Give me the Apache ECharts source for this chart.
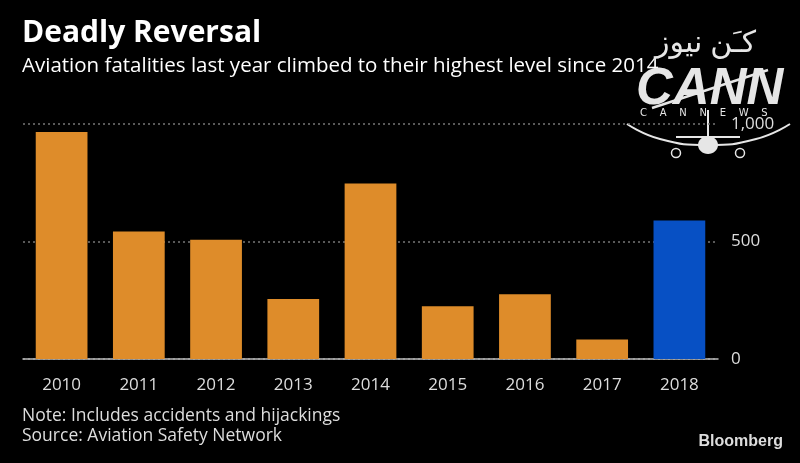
<!DOCTYPE html>
<html>
<head>
<meta charset="utf-8">
<script src="https://cdn.jsdelivr.net/npm/echarts@6/dist/echarts.min.js"></script>
<style>
  html, body { margin: 0; padding: 0; background: #000; }
  #main { width: 800px; height: 463px; }
</style>
</head>
<body>
<div id="main"></div>
<script>
var chart = echarts.init(document.getElementById("main"));

// fatalities per year
var years = ["2010", "2011", "2012", "2013", "2014", "2015", "2016", "2017", "2018"];
var fatalities = [966, 543, 507, 255, 747, 224, 276, 83, 589];
var yTicks = [0, 500, 1000];

var orange = "#DE8C2A";
var blue = "#0750C4";
var font = "Open Sans";

var barData = fatalities.map(function (v, i) {
    return {
        value: v,
        itemStyle: { color: years[i] === "2018" ? blue : orange }
    };
});

var option = {
    backgroundColor: "#000",
    textStyle: { fontFamily: font },
    animation: false,
    grid: { left: 23, right: 82, top: 124, bottom: 104 },
    xAxis: {
        type: "category",
        data: years,
        axisLine: { lineStyle: { color: "#bbb", width: 1.5 } },
        axisTick: { alignWithLabel: true, length: 5, lineStyle: { color: "#bbb" } },
        axisLabel: { color: "#ddd", fontSize: 17, margin: 18, fontFamily: font }
    },
    yAxis: {
        type: "value",
        position: "right",
        min: 0,
        max: 1000,
        interval: 500,
        axisLine: { show: false },
        axisTick: { show: false },
        splitLine: { lineStyle: { color: "#777", type: [2, 3], width: 1.5 } },
        axisLabel: {
            color: "#ddd",
            fontSize: 17,
            margin: 13,
            fontFamily: font,
            formatter: function (v) {
                return yTicks.indexOf(v) >= 0 ? v.toLocaleString("en-US") : "";
            }
        }
    },
    series: [{
        type: "bar",
        data: barData,
        barCategoryGap: "33%"
    }],
    graphic: [
        {
            type: "text", left: 22, top: 18,
            style: { text: "Deadly Reversal", fill: "#fff", font: "bold 30px " + font }
        },
        {
            type: "text", left: 22, top: 56,
            style: { text: "Aviation fatalities last year climbed to their highest level since 2014", fill: "#fff", font: "20.5px " + font }
        },
        {
            type: "text", left: 22, top: 407,
            style: { text: "Note: Includes accidents and hijackings", fill: "#ddd", font: "17.5px " + font }
        },
        {
            type: "text", left: 22, top: 427,
            style: { text: "Source: Aviation Safety Network", fill: "#ddd", font: "17.5px " + font }
        },
        {
            type: "text", right: 17, top: 434,
            style: { text: "Bloomberg", fill: "#ddd", font: "bold 16px Liberation Sans" }
        },
        // watermark logo
        {
            type: "group", z: 100,
            children: [
                {
                    type: "text", x: 655, y: 28,
                    style: { text: "كـَن نيوز", fill: "#e6e6e6", font: "30px 'Noto Sans', 'DejaVu Sans'" }
                },
                {
                    type: "text", x: 636, y: 64,
                    style: { text: "CANN", fill: "#e6e6e6", font: "italic bold 51px 'Liberation Sans Narrow', 'Liberation Sans'" }
                },
                {
                    type: "line",
                    shape: { x1: 652, y1: 108, x2: 768, y2: 70 },
                    style: { stroke: "#e6e6e6", lineWidth: 2.5 }
                },
                {
                    type: "text", x: 640, y: 108,
                    style: { text: "C    A    N    N    E    W    S", fill: "#e6e6e6", font: "10px 'DejaVu Sans'" }
                },
                {
                    type: "polyline",
                    shape: { points: [[627, 124], [660, 139], [708, 145], [756, 139], [790, 124]], smooth: 0.5 },
                    style: { stroke: "#e6e6e6", lineWidth: 2, fill: null }
                },
                {
                    type: "line",
                    shape: { x1: 676, y1: 137, x2: 740, y2: 137 },
                    style: { stroke: "#e6e6e6", lineWidth: 2 }
                },
                {
                    type: "line",
                    shape: { x1: 708, y1: 110, x2: 708, y2: 150 },
                    style: { stroke: "#e6e6e6", lineWidth: 2 }
                },
                {
                    type: "ellipse",
                    shape: { cx: 708, cy: 145, rx: 10, ry: 9 },
                    style: { fill: "#e6e6e6" }
                },
                {
                    type: "circle",
                    shape: { cx: 676, cy: 153, r: 4.5 },
                    style: { fill: null, stroke: "#e6e6e6", lineWidth: 1.5 }
                },
                {
                    type: "circle",
                    shape: { cx: 740, cy: 153, r: 4.5 },
                    style: { fill: null, stroke: "#e6e6e6", lineWidth: 1.5 }
                }
            ]
        }
    ]
};

chart.setOption(option);
</script>
</body>
</html>
